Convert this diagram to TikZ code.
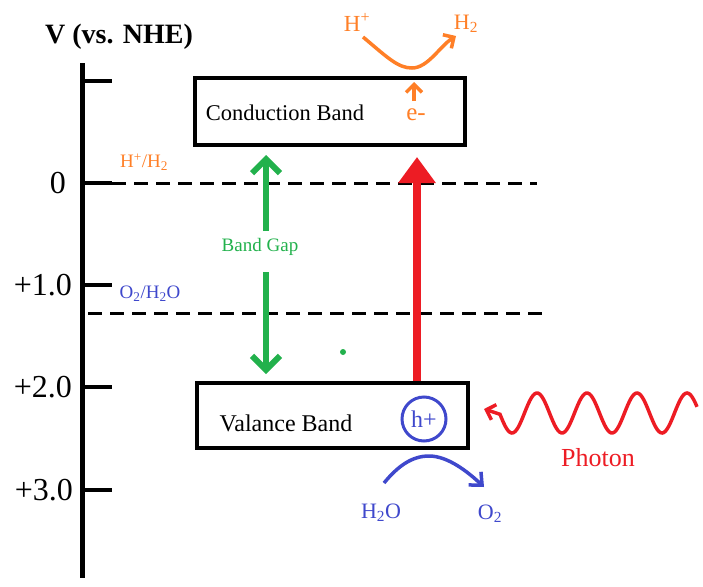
\documentclass[tikz,border=0pt]{standalone}
\usepackage{fontspec}
\setmainfont{Liberation Serif}
\usetikzlibrary{arrows.meta}
\definecolor{porange}{HTML}{FF7F27}
\definecolor{pgreen}{HTML}{22B14C}
\definecolor{pblue}{HTML}{3F48CC}
\definecolor{pred}{HTML}{ED1C24}
\newcommand{\pxsize}[1]{\fontsize{#1}{#1}\selectfont}
\begin{document}
\begin{tikzpicture}[x=1pt,y=-1pt,
  bandbox/.style={draw, line width=4pt, inner sep=0pt},
  axisline/.style={line width=5pt},
  tickline/.style={line width=4pt},
  levelline/.style={line width=3pt, dash pattern=on 14pt off 8pt},
  numlabel/.style={anchor=east, inner sep=0pt, font=\pxsize{32}},
  gaparrow/.style={pgreen, line width=6pt, -{Straight Barb[length=14pt,width=28pt]}},
  redarrow/.style={pred, line width=8pt, -{Triangle[length=26pt,width=36pt]}},
  orangearrow/.style={porange, line width=3.5pt, -{Straight Barb[length=8pt,width=16pt]}},
  bluearrow/.style={pblue, line width=3.5pt, -{Straight Barb[length=10pt,width=18pt]}},
  photonline/.style={pred, line width=3.5pt, -{Straight Barb[length=8pt,width=16pt]}},
]
\useasboundingbox (0,0) rectangle (703,586);

% title and axis
\node[font=\bfseries\pxsize{28}, inner sep=0pt] (title) at (119,37) {V (vs. NHE)};
\coordinate (axtop) at (82,63);
\coordinate (axbot) at (82,578);
\draw[axisline] (axtop) -- (axbot);
\foreach \n/\yy in {t/81, z/183, a/285, b/387, c/490}{
  \coordinate (tk\n) at (80,\yy);
  \coordinate (te\n) at (112,\yy);
  \draw[tickline] (tk\n) -- (te\n);
}
\node[numlabel] (l0) at (66,183) {0};
\node[numlabel] (l1) at (72,285) {+1.0};
\node[numlabel] (l2) at (72,387) {+2.0};
\node[numlabel] (l3) at (73,490) {+3.0};

% redox levels
\coordinate (hl1) at (112,183);
\coordinate (hl2) at (537,183);
\draw[levelline] (hl1) -- (hl2);
\coordinate (ol1) at (88,313);
\coordinate (ol2) at (543,313);
\draw[levelline] (ol1) -- (ol2);
\node[porange, font=\pxsize{19}, inner sep=0pt] (hlab) at (144,162) {H\textsuperscript{+}/H\textsubscript{2}};
\node[pblue, font=\pxsize{19}, inner sep=0pt] (olab) at (150,294) {O\textsubscript{2}/H\textsubscript{2}O};

% bands
\node[bandbox, minimum width=270pt, minimum height=67pt] (cb) at (330,111.5) {};
\node[font=\pxsize{22.5}, inner sep=0pt] (cbt) at (285,113) {Conduction Band};
\node[bandbox, minimum width=271pt, minimum height=65pt] (vb) at (332.5,415.5) {};
\node[font=\pxsize{24}, inner sep=0pt] (vbt) at (286,423) {Valance Band};

% band gap
\coordinate (g1) at (266,231);
\coordinate (g2) at (266,155);
\coordinate (g3) at (266,272);
\coordinate (g4) at (266,374);
\draw[gaparrow] (g1) -- (g2);
\draw[gaparrow] (g3) -- (g4);
\node[pgreen, font=\pxsize{19}, inner sep=0pt] (gap) at (260,247) {Band Gap};
\fill[pgreen] (343,352) circle[radius=3pt];

% excitation
\coordinate (rt) at (417,381);
\coordinate (rh) at (417,157);
\draw[redarrow] (rt) -- (rh);

% electron
\node[porange, font=\pxsize{25}, inner sep=0pt] (el) at (416,115) {e-};
\coordinate (ea) at (414,101);
\coordinate (eb) at (414,82);
\draw[orangearrow] (ea) -- (eb);
\node[porange, font=\pxsize{23}, inner sep=0pt] (hp) at (357,22) {H\textsuperscript{+}};
\node[porange, font=\pxsize{22}, inner sep=0pt] (h2) at (466,24) {H\textsubscript{2}};
\coordinate (os) at (363,37);
\coordinate (ob) at (412,68);
\coordinate (oe) at (456,36);
\draw[orangearrow] (os) .. controls (388,58) and (398,68) .. (ob) .. controls (428,68) and (440,46) .. (oe);

% hole
\node[draw=pblue, line width=3pt, circle, minimum size=44pt, inner sep=0pt, text=pblue, font=\pxsize{24}] (hole) at (424,419) {h+};
\node[pblue, font=\pxsize{22}, inner sep=0pt] (h2o) at (381,513) {H\textsubscript{2}O};
\node[pblue, font=\pxsize{22}, inner sep=0pt] (o2) at (490,514) {O\textsubscript{2}};
\coordinate (bs) at (384,483);
\coordinate (bp) at (429,456);
\coordinate (be) at (484,487);
\draw[bluearrow] (bs) .. controls (398,466) and (412,456) .. (bp) .. controls (448,456) and (468,472) .. (be);

% photon
\coordinate (pend) at (484,409);
\draw[photonline] plot[domain=697:500, samples=120, smooth, variable=\t] (\t, {413-20*cos(7.2*(\t-537))}) -- (pend);
\node[pred, font=\pxsize{26}, inner sep=0pt] (ph) at (598,458) {Photon};
\end{tikzpicture}
\end{document}
